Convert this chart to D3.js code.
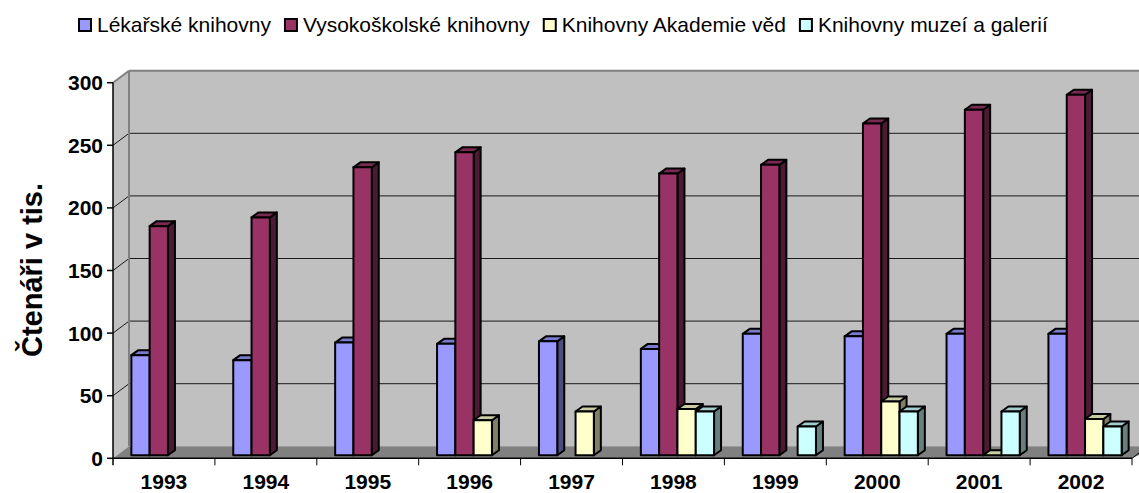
<!DOCTYPE html>
<html><head><meta charset="utf-8">
<script src="https://cdn.jsdelivr.net/npm/d3@7"></script>
<style>html,body{margin:0;padding:0;background:#fff;}svg{display:block;font-family:"Liberation Sans",Arial,sans-serif;}</style>
</head><body>
<svg id="c" width="1139" height="493"></svg>
<script>
const categories = ["1993","1994","1995","1996","1997","1998","1999","2000","2001","2002"];
const seriesNames = ["Lékařské knihovny","Vysokoškolské knihovny","Knihovny Akademie věd","Knihovny muzeí a galerií"];
const lekarske = [80,76,90,89,91,85,97,95,97,97];
const vysokoskolske = [183,190,230,242,null,225,232,265,276,288];
const akademie = [null,null,null,28,35,37,null,43,0,29];
const muzea = [null,null,null,null,null,35,23,35,35,23];
const yTicks = [0,50,100,150,200,250,300];
const colors = ["#9999FF","#993366","#FFFFCC","#CCFFFF"];
const axisTitle = "Čtenáři v tis.";

(function(){
const seriesValues = [lekarske, vysokoskolske, akademie, muzea];
const svg = d3.select("#c");

const x0 = 113, x1 = 1132;
const DX = 16, DY = -12;          // full depth of the 3D box
const fx = 4, fy = -3;            // front face of bars
const bdx = 7, bdy = -5;          // bar depth
const yF = d3.scaleLinear().domain([0,300]).range([458.3,82.7]);
const xBand = d3.scaleBand().domain(categories).range([x0,x1]).padding(0);
const bw = xBand.bandwidth();
const xSub = d3.scaleBand().domain(d3.range(4)).range([14.35, bw-14.35]).padding(0);

function scaleColor(c,k){const r=d3.rgb(c);return d3.rgb(r.r*k,r.g*k,r.b*k).formatHex();}

const yTop = yF(300), yBot = yF(0);
svg.append("polygon").attr("points",[[x0+DX,yTop+DY],[x1+DX+10,yTop+DY],[x1+DX+10,yBot+DY],[x0+DX,yBot+DY]].join(" "))
  .attr("fill","#C0C0C0").attr("stroke","none");
svg.append("polygon").attr("points",[[x0,yTop],[x0+DX,yTop+DY],[x0+DX,yBot+DY],[x0,yBot]].join(" "))
  .attr("fill","#C0C0C0").attr("stroke","none");
yTicks.filter(v=>v>0 && v<300).forEach(v=>{
  svg.append("line").attr("x1",x0+DX).attr("x2",x1+DX+10).attr("y1",yF(v)+DY).attr("y2",yF(v)+DY)
    .attr("stroke","#1a1a1a").attr("stroke-width",1);
  svg.append("line").attr("x1",x0).attr("x2",x0+DX).attr("y1",yF(v)).attr("y2",yF(v)+DY)
    .attr("stroke","#1a1a1a").attr("stroke-width",1);
});
svg.append("line").attr("x1",x0+DX).attr("x2",x1+DX+10).attr("y1",yTop+DY).attr("y2",yTop+DY).attr("stroke","#808080").attr("stroke-width",2);
svg.append("line").attr("x1",x0).attr("x2",x0+DX).attr("y1",yTop).attr("y2",yTop+DY).attr("stroke","#808080").attr("stroke-width",2);
svg.append("line").attr("x1",x0+DX).attr("x2",x0+DX).attr("y1",yTop+DY).attr("y2",yBot+DY).attr("stroke","#808080").attr("stroke-width",2);
svg.append("polygon").attr("points",[[x0,yBot],[x0+DX,yBot+DY],[x1+DX+10,yBot+DY],[x1,yBot]].join(" "))
  .attr("fill","#808080").attr("stroke","none");

const baseY = yF(0)+fy;
const yBar = v => yF(v)+fy;
categories.forEach((c,ci)=>{
  seriesValues.forEach((vals,si)=>{
    const v = vals[ci];
    if(v===null || v===undefined) return;
    const x = xBand(c)+xSub(si)+fx, w = xSub.bandwidth();
    const yt = yBar(v), yb = baseY;
    const g = svg.append("g").attr("stroke","#000").attr("stroke-width",2).attr("stroke-linejoin","round");
    g.append("polygon").attr("points",[[x+w,yt],[x+w+bdx,yt+bdy],[x+w+bdx,yb+bdy],[x+w,yb]].join(" "))
      .attr("fill",scaleColor(colors[si],0.5));
    g.append("polygon").attr("points",[[x,yt],[x+bdx,yt+bdy],[x+w+bdx,yt+bdy],[x+w,yt]].join(" "))
      .attr("fill",scaleColor(colors[si],0.8));
    g.append("rect").attr("x",x).attr("y",yt).attr("width",w).attr("height",Math.max(0,yb-yt))
      .attr("fill",colors[si]);
  });
});

svg.append("line").attr("x1",x0).attr("x2",x0).attr("y1",yTop).attr("y2",yBot+7).attr("stroke","#000").attr("stroke-width",1.5);
svg.append("line").attr("x1",x0).attr("x2",x1).attr("y1",yBot).attr("y2",yBot).attr("stroke","#000").attr("stroke-width",1.5);
svg.append("line").attr("x1",x1).attr("x2",x1+DX*0.45).attr("y1",yBot).attr("y2",yBot+DY*0.45).attr("stroke","#000").attr("stroke-width",1);
yTicks.forEach(v=>{
  svg.append("line").attr("x1",x0-6).attr("x2",x0).attr("y1",yF(v)).attr("y2",yF(v)).attr("stroke","#000").attr("stroke-width",1.5);
  svg.append("text").attr("x",103).attr("y",yF(v)).attr("dy","0.36em").attr("text-anchor","end")
    .attr("font-size",21).attr("font-weight","bold").attr("fill","#000").text(v);
});
categories.forEach(c=>{
  const xe = xBand(c)+bw;
  svg.append("line").attr("x1",xe).attr("x2",xe).attr("y1",yBot).attr("y2",yBot+7).attr("stroke","#000").attr("stroke-width",1);
  svg.append("text").attr("x",xBand(c)+bw/2).attr("y",489).attr("text-anchor","middle")
    .attr("font-size",21).attr("font-weight","bold").attr("fill","#000").text(c);
});

svg.append("text").attr("transform","translate(42,270) rotate(-90)").attr("text-anchor","middle")
  .attr("font-size",29).attr("font-weight","bold").attr("fill","#000").text(axisTitle);

let lx = 79;
seriesNames.forEach((n,i)=>{
  svg.append("rect").attr("x",lx).attr("y",19).attr("width",12).attr("height",12)
    .attr("fill",colors[i]).attr("stroke","#000").attr("stroke-width",2);
  const t = svg.append("text").attr("x",lx+18).attr("y",32).attr("font-size",21).attr("fill","#000").text(n);
  lx += 18 + t.node().getComputedTextLength() + 14;
});
})();
</script>
</body></html>
